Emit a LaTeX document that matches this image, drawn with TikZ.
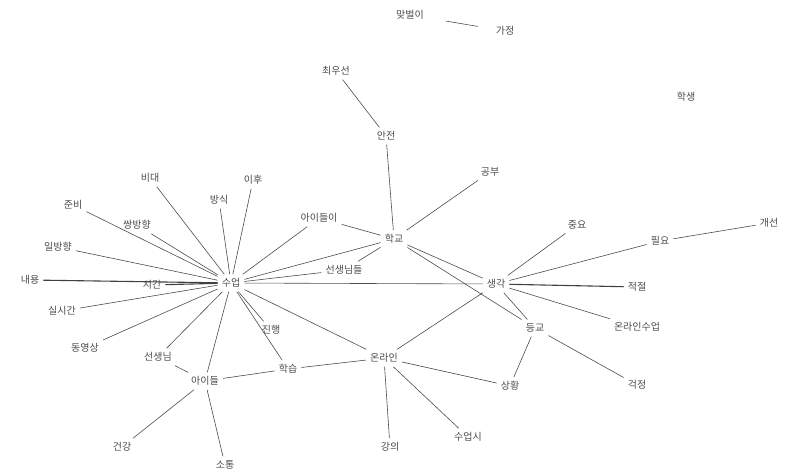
\documentclass[tikz,border=0pt]{standalone}
\usepackage{fontspec}
\setmainfont{Noto Sans CJK KR}
\begin{document}
\begin{tikzpicture}[x=1pt,y=-1pt,
  w/.style={font=\fontsize{10}{11}\selectfont, text=black!70, inner sep=4pt},
  e/.style={draw=black!70, line width=0.6pt},
  ew/.style={draw=black!75, line width=1.1pt}]
\useasboundingbox (0,0) rectangle (790,476);
\node[w] (matbeol) at (410,15) {맞벌이};
\node[w] (gajeong) at (505,31) {가정};
\node[w] (haksaeng) at (686,97) {학생};
\node[w] (choe) at (336,71) {최우선};
\node[w] (anjeon) at (386,136) {안전};
\node[w] (gongbu) at (490,172) {공부};
\node[w] (hakgyo) at (394,239) {학교};
\node[w] (aideuli) at (319,218) {아이들이};
\node[w] (sseds) at (344,270) {선생님들};
\node[w] (sueop) at (231,283) {수업};
\node[w] (bidae) at (150,178) {비대};
\node[w] (bangsik) at (219,200) {방식};
\node[w] (ihu) at (253,180) {이후};
\node[w] (junbi) at (73,205) {준비};
\node[w] (ssang) at (137,225) {쌍방향};
\node[w] (il) at (58,247) {일방향};
\node[w] (naeyong) at (30,280) {내용};
\node[w] (sigan) at (152,285) {시간};
\node[w] (silsi) at (62,311) {실시간};
\node[w] (dong) at (85,348) {동영상};
\node[w] (ssaem) at (158,357) {선생님};
\node[w] (aideul) at (205,381) {아이들};
\node[w] (geongang) at (122,447) {건강};
\node[w] (sotong) at (225,465) {소통};
\node[w] (jinhaeng) at (271,330) {진행};
\node[w] (hakseup) at (288,369) {학습};
\node[w] (online) at (384,358) {온라인};
\node[w] (gangui) at (390,447) {강의};
\node[w] (sueopsi) at (468,437) {수업시};
\node[w] (saeng) at (496,284) {생각};
\node[w] (jungyo) at (577,225) {중요};
\node[w] (pilyo) at (660,241) {필요};
\node[w] (gaeseon) at (769,223) {개선};
\node[w] (jeokjeol) at (637,287) {적절};
\node[w] (onsueop) at (637,327) {온라인수업};
\node[w] (deunggyo) at (535,328) {등교};
\node[w] (sanghwang) at (510,386) {상황};
\node[w] (geokjeong) at (637,385) {걱정};

\draw[e, shorten <=18pt, shorten >=14pt] (matbeol) -- (gajeong);
\draw[e] (choe) -- (anjeon);
\draw[e] (anjeon) -- (hakgyo);
\draw[e] (gongbu) -- (hakgyo);
\draw[e] (aideuli) -- (hakgyo);
\draw[e] (sseds) -- (hakgyo);
\draw[e] (sueop) -- (hakgyo);
\draw[e] (sueop) -- (aideuli);
\draw[e] (sueop) -- (sseds);
\draw[e] (sueop) -- (saeng);
\draw[e] (hakgyo) -- (saeng);
\draw[e] (hakgyo) -- (deunggyo);
\draw[e] (online) -- (saeng);
\draw[e] (saeng) -- (jungyo);
\draw[e] (saeng) -- (pilyo);
\draw[ew] (saeng) -- (jeokjeol);
\draw[e] (saeng) -- (onsueop);
\draw[e] (saeng) -- (deunggyo);
\draw[e] (pilyo) -- (gaeseon);
\draw[e] (deunggyo) -- (sanghwang);
\draw[e] (deunggyo) -- (geokjeong);
\draw[e] (online) -- (sanghwang);
\draw[e] (online) -- (gangui);
\draw[e] (online) -- (sueopsi);
\draw[e] (online) -- (hakseup);
\draw[e] (sueop) -- (online);
\draw[e] (sueop) -- (jinhaeng);
\draw[e] (sueop) -- (hakseup);
\draw[e] (sueop) -- (aideul);
\draw[e] (sueop) -- (ssaem);
\draw[e] (sueop) -- (dong);
\draw[e] (sueop) -- (silsi);
\draw[ew] (sueop) -- (sigan);
\draw[ew] (sueop) -- (naeyong);
\draw[e] (sueop) -- (il);
\draw[e] (sueop) -- (ssang);
\draw[e] (sueop) -- (junbi);
\draw[e] (sueop) -- (bidae);
\draw[e] (sueop) -- (bangsik);
\draw[e] (sueop) -- (ihu);
\draw[e] (aideul) -- (hakseup);
\draw[e] (aideul) -- (ssaem);
\draw[e] (aideul) -- (geongang);
\draw[e] (aideul) -- (sotong);
\end{tikzpicture}
\end{document}
